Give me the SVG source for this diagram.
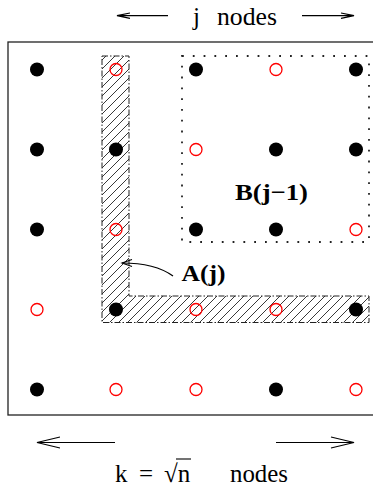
<svg xmlns="http://www.w3.org/2000/svg" width="373" height="490" viewBox="0 0 373 490">
<style>
.b{fill:#000}
.r{fill:none;stroke:#ff0000;stroke-width:1.3}
.t{font-family:"Liberation Serif","Times New Roman",serif;font-size:25px;fill:#000}
.tb{font-family:"Liberation Serif","Times New Roman",serif;font-size:23px;font-weight:bold;fill:#000}
.ln{fill:none;stroke:#000;stroke-width:1.2}
</style>
<defs>
<pattern id="hatch" patternUnits="userSpaceOnUse" width="9" height="9">
<path d="M-1,1 L1,-1 M0,9 L9,0 M8,10 L10,8" stroke="#222" stroke-width="0.9"/>
</pattern>
<marker id="ah" markerWidth="16" markerHeight="10" refX="14" refY="5" orient="auto" markerUnits="userSpaceOnUse">
<path d="M4,1.5 L14,5 L4,8.5" fill="none" stroke="#000" stroke-width="1.1"/>
</marker>
</defs>
<rect width="373" height="490" fill="#fff"/>
<g id="grid-frame">
<rect x="8" y="42" width="380" height="373" fill="none" stroke="#222" stroke-width="1.3"/>
</g>
<g id="region-A">
<path d="M102,56 L129,56 L129,296 L369,296 L369,322.5 L102,322.5 Z" fill="url(#hatch)" stroke="#222" stroke-width="1" stroke-dasharray="6,2,1.5,2"/>
</g>
<g id="region-B">
<rect x="182" y="56" width="187" height="186" fill="none" stroke="#222" stroke-width="1.8" stroke-dasharray="1.8,9"/>
<text class="tb" x="235" y="200" textLength="73" lengthAdjust="spacingAndGlyphs">B(j−1)</text>
</g>
<g id="nodes">
<g id="n11"><circle class="b" cx="37" cy="69.5" r="7"/></g>
<g id="n12"><circle class="r" cx="116" cy="69.5" r="6"/></g>
<g id="n13"><circle class="b" cx="196" cy="69.5" r="7"/></g>
<g id="n14"><circle class="r" cx="276" cy="69.5" r="6"/></g>
<g id="n15"><circle class="b" cx="356" cy="69.5" r="7"/></g>
<g id="n21"><circle class="b" cx="37" cy="149.5" r="7"/></g>
<g id="n22"><circle class="b" cx="116" cy="149.5" r="7"/></g>
<g id="n23"><circle class="r" cx="196" cy="149.5" r="6"/></g>
<g id="n24"><circle class="b" cx="276" cy="149.5" r="7"/></g>
<g id="n25"><circle class="b" cx="356" cy="149.5" r="7"/></g>
<g id="n31"><circle class="b" cx="37" cy="229.5" r="7"/></g>
<g id="n32"><circle class="r" cx="116" cy="229.5" r="6"/></g>
<g id="n33"><circle class="b" cx="196" cy="229.5" r="7"/></g>
<g id="n34"><circle class="b" cx="276" cy="229.5" r="7"/></g>
<g id="n35"><circle class="r" cx="356" cy="229.5" r="6"/></g>
<g id="n41"><circle class="r" cx="37" cy="309.5" r="6"/></g>
<g id="n42"><circle class="b" cx="116" cy="309.5" r="7"/></g>
<g id="n43"><circle class="r" cx="196" cy="309.5" r="6"/></g>
<g id="n44"><circle class="r" cx="276" cy="309.5" r="6"/></g>
<g id="n45"><circle class="b" cx="356" cy="309.5" r="7"/></g>
<g id="n51"><circle class="b" cx="37" cy="389.5" r="7"/></g>
<g id="n52"><circle class="r" cx="116" cy="389.5" r="6"/></g>
<g id="n53"><circle class="r" cx="196" cy="389.5" r="6"/></g>
<g id="n54"><circle class="b" cx="276" cy="389.5" r="7"/></g>
<g id="n55"><circle class="r" cx="356" cy="389.5" r="6"/></g>
</g>
<g id="label-A">
<text class="tb" x="181.5" y="281" textLength="44" lengthAdjust="spacingAndGlyphs">A(j)</text>
</g>
<g id="connectors">
<path class="ln" d="M173,276 Q155,263 122,263" marker-end="url(#ah)"/>
<path class="ln" d="M168,15.7 L117,15.7 M130,13 L117,15.7 L130,18.4"/>
<path class="ln" d="M302,15.7 L354,15.7 M341,13 L354,15.7 L341,18.4"/>
<path class="ln" d="M115,442.5 L37,442.5 M60,437 L37,442.5 L60,448"/>
<path class="ln" d="M276,442.5 L354,442.5 M331,437 L354,442.5 L331,448"/>
</g>
<g id="labels">
<text class="t" x="193" y="25">j</text>
<text class="t" x="217" y="25" textLength="60" lengthAdjust="spacingAndGlyphs">nodes</text>
<text class="t" x="115" y="481.5">k</text>
<text class="t" x="139" y="481.5">=</text>
<text class="t" x="164" y="481.5">√n</text>
<line x1="176" y1="459" x2="191" y2="459" stroke="#000" stroke-width="1.1"/>
<text class="t" x="230" y="481.5" textLength="58" lengthAdjust="spacingAndGlyphs">nodes</text>
</g>
</svg>
